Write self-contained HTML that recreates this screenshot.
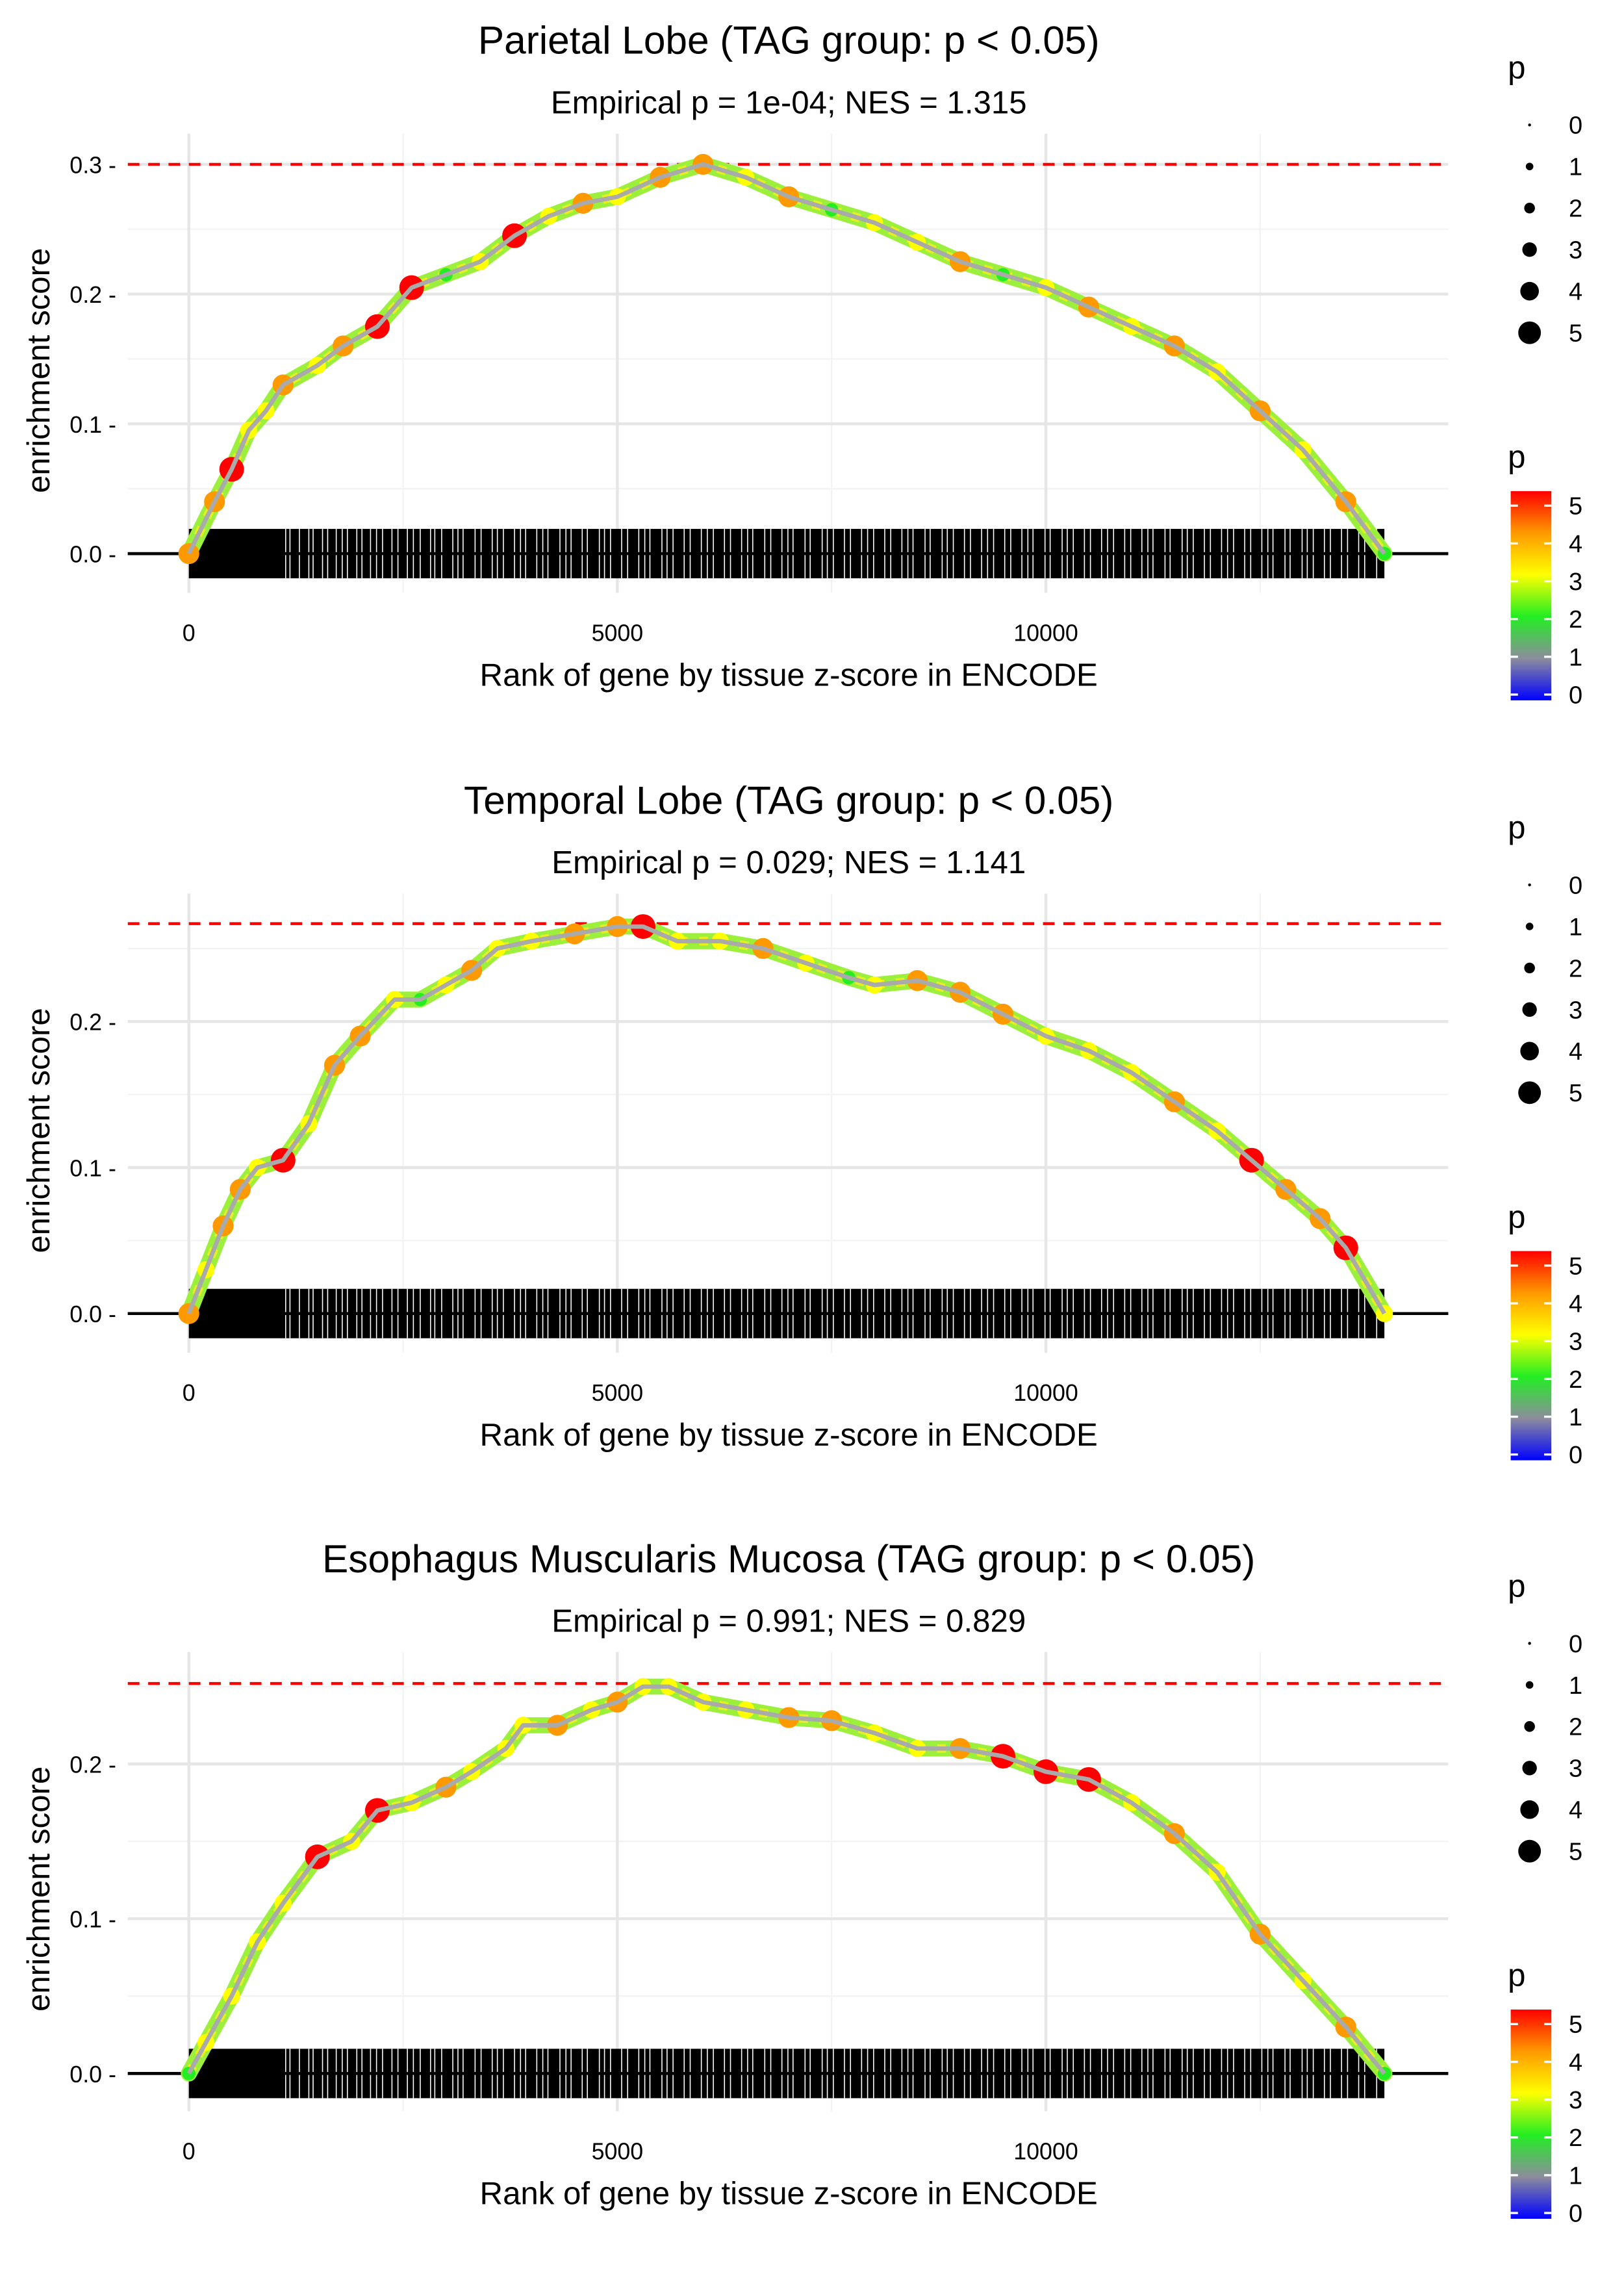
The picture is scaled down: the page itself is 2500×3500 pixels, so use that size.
<!DOCTYPE html>
<html><head><meta charset="utf-8"><style>
html,body{margin:0;padding:0;background:#fff}
svg{display:block}
text{font-family:"Liberation Sans",sans-serif;fill:#000}
</style></head><body>
<svg id="chart" width="2500" height="3500" viewBox="0 0 1118 1565" preserveAspectRatio="none" xmlns="http://www.w3.org/2000/svg">
<defs>
<linearGradient id="pgrad" x1="0" y1="1" x2="0" y2="0">
<stop offset="0" stop-color="#0000ff"/><stop offset="0.2" stop-color="#8c8c9c"/><stop offset="0.4" stop-color="#22ee22"/><stop offset="0.6" stop-color="#ffff00"/><stop offset="0.8" stop-color="#ff9900"/><stop offset="1" stop-color="#ff0000"/>
</linearGradient>
</defs>
</svg>
<script>
const titles = ["Parietal Lobe (TAG group: p < 0.05)","Temporal Lobe (TAG group: p < 0.05)","Esophagus Muscularis Mucosa (TAG group: p < 0.05)"];
const subtitles = ["Empirical p = 1e-04; NES = 1.315","Empirical p = 0.029; NES = 1.141","Empirical p = 0.991; NES = 0.829"];
const maxES = [0.3,0.267,0.252];
const yTicks = [[0,0.1,0.2,0.3],[0,0.1,0.2],[0,0.1,0.2]];
const xTicks = [0,5000,10000];
const ranks1 = [0,300,500,700,900,1100,1500,1800,2200,2600,3000,3400,3800,4200,4600,5000,5500,6000,6500,7000,7500,8000,8500,9000,9500,10000,10500,11000,11500,12000,12500,13000,13500,13950];
const es1 = [0,0.04,0.065,0.095,0.11,0.13,0.145,0.16,0.175,0.205,0.215,0.225,0.245,0.26,0.27,0.275,0.29,0.3,0.29,0.275,0.265,0.255,0.24,0.225,0.215,0.205,0.19,0.175,0.16,0.14,0.11,0.08,0.04,0];
const p1 = [4,4,5,3,3,4,3,4,5,5,2,3,5,3,4,3,4,4,3,4,2,3,3,4,2,3,4,3,4,3,4,3,4,2];
const ranks2 = [0,200,400,600,800,1100,1400,1700,2000,2400,2700,3000,3300,3600,4000,4500,5000,5300,5700,6200,6700,7200,7700,8000,8500,9000,9500,10000,10500,11000,11500,12000,12400,12800,13200,13500,13950];
const es2 = [0,0.03,0.06,0.085,0.1,0.105,0.13,0.17,0.19,0.215,0.215,0.225,0.235,0.25,0.255,0.26,0.265,0.265,0.255,0.255,0.25,0.24,0.23,0.225,0.228,0.22,0.205,0.19,0.18,0.165,0.145,0.125,0.105,0.085,0.065,0.045,0];
const p2 = [4,3,4,4,3,5,3,4,4,3,2,3,4,3,3,4,4,5,3,3,4,3,2,3,4,4,4,3,3,3,4,3,5,4,4,5,3];
const ranks3 = [0,200,500,800,1100,1500,1900,2200,2600,3000,3300,3700,3900,4300,4700,5000,5300,5600,6000,6500,7000,7500,8000,8500,9000,9500,10000,10500,11000,11500,12000,12500,13000,13500,13950];
const es3 = [0,0.02,0.05,0.085,0.11,0.14,0.15,0.17,0.175,0.185,0.195,0.21,0.225,0.225,0.235,0.24,0.25,0.25,0.24,0.235,0.23,0.228,0.22,0.21,0.21,0.205,0.195,0.19,0.175,0.155,0.13,0.09,0.06,0.03,0];
const p3 = [2,3,3,3,3,5,3,5,3,4,3,3,3,4,3,4,3,3,3,3,4,4,3,3,4,5,5,5,3,4,3,4,3,4,2];
const rugStart = 0;
const rugEnd = 13950;
const rugGaps = [1130,1180,1290,1400,1450,1560,1620,1720,1790,1850,1960,2020,2120,2190,2260,2370,2440,2550,2620,2700,2820,2870,2950,3080,3140,3200,3340,3410,3540,3600,3670,3800,3870,3930,4060,4130,4190,4330,4400,4460,4590,4650,4790,4850,4920,5050,5120,5250,5320,5380,5520,5580,5650,5780,5850,5980,6050,6120,6250,6320,6450,6520,6580,6720,6790,6920,6990,7050,7190,7250,7390,7450,7520,7650,7720,7850,7920,7990,8120,8190,8320,8390,8450,8590,8650,8790,8850,8920,9050,9120,9250,9320,9390,9520,9590,9720,9790,9850,9990,10050,10190,10250,10320,10450,10520,10650,10720,10790,10920,10990,11120,11190,11250,11390,11450,11590,11650,11720,11850,11920,12050,12120,12190,12320,12390,12520,12590,12650,12790,12850,12990,13050,13120,13250,13320,13450,13520,13650,13720,13860];
const legendSizes = [0,1,2,3,4,5];
const colorLabels = [5,4,3,2,1,0];

const NS="http://www.w3.org/2000/svg";
const svg=document.getElementById('chart');
function mk(tag,attrs,parent,txt){const e=document.createElementNS(NS,tag);for(const k in attrs)e.setAttribute(k,attrs[k]);if(txt!==undefined)e.textContent=txt;(parent||svg).appendChild(e);return e;}
function pcol(p){const stops=[[0,[0,0,255]],[1,[140,140,156]],[2,[34,238,34]],[3,[255,255,0]],[4,[255,153,0]],[5,[255,0,0]]];
 for(let i=0;i<5;i++){if(p<=stops[i+1][0]){const t=(p-stops[i][0]);const a=stops[i][1],b=stops[i+1][1];return `rgb(${Math.round(a[0]+(b[0]-a[0])*t)},${Math.round(a[1]+(b[1]-a[1])*t)},${Math.round(a[2]+(b[2]-a[2])*t)})`;}}return 'red';}
const panels=[{off:0,y0:381,k:893,r:ranks1,e:es1,p:p1},{off:523,y0:904,k:1005,r:ranks2,e:es2,p:p2},{off:1045,y0:1427,k:1065,r:ranks3,e:es3,p:p3}];
const X=r=>130+r*0.059;
panels.forEach((P,i)=>{
 const g=mk('g',{});
 
 
 const Y=v=>P.y0-v*P.k;
 const top=P.off+92, bot=P.off+408;
 const t=mk('text',{x:543,y:P.off+37,'font-size':27,'text-anchor':'middle'},g,titles[i]);
 
 
 const st=mk('text',{x:543,y:P.off+78,'font-size':22,'text-anchor':'middle'},g,subtitles[i]);
 
 
 [2500,7500,12500].forEach(r=>mk('line',{x1:X(r),x2:X(r),y1:top,y2:bot,stroke:'#f3f3f3','stroke-width':1},g));
 yTicks[i].forEach(v=>{const y=Y(v+0.05);if(y>top)mk('line',{x1:88,x2:997,y1:y,y2:y,stroke:'#f3f3f3','stroke-width':1},g);});
 xTicks.forEach(r=>mk('line',{x1:X(r),x2:X(r),y1:top,y2:bot,stroke:'#e6e6e6','stroke-width':2},g));
 yTicks[i].forEach(v=>{mk('line',{x1:88,x2:997,y1:Y(v),y2:Y(v),stroke:'#e6e6e6','stroke-width':2},g);
  const tl=mk('text',{x:80,y:Y(v)+6,'font-size':16,'text-anchor':'end',fill:'#4d4d4d'},g,v.toFixed(1)+' -');
  
  });
 xTicks.forEach(r=>{const tl=mk('text',{x:X(r),y:P.off+441,'font-size':16,'text-anchor':'middle',fill:'#4d4d4d'},g,String(r));
  
  });
 const xt=mk('text',{x:543,y:P.off+472,'font-size':22,'text-anchor':'middle'},g,'Rank of gene by tissue z-score in ENCODE');
 
 
 const yc=P.off+255;
 const yt=mk('text',{x:34,y:yc,'font-size':22,'text-anchor':'middle',transform:`rotate(-90 34 ${yc})`},g,'enrichment score');
 
 
 const dl=mk('line',{x1:88,x2:997,y1:Y(maxES[i]),y2:Y(maxES[i]),stroke:'#ff0000','stroke-width':2,'stroke-dasharray':'8 6'},g);
 
 
 mk('line',{x1:88,x2:997,y1:P.y0,y2:P.y0,stroke:'#000','stroke-width':2},g);
 const rug=mk('rect',{x:X(rugStart),y:P.y0-17,width:X(rugEnd)-X(rugStart),height:34,fill:'#000'},g);
 
 
 rugGaps.forEach(r=>{const l=mk('line',{x1:X(r),x2:X(r),y1:P.y0-17,y2:P.y0+17,stroke:'#fff','stroke-width':0.7},g);
  
  });
 mk('line',{x1:88,x2:997,y1:P.y0,y2:P.y0,stroke:'#000','stroke-width':2},g);
 const pts=P.r.map((r,j)=>X(r)+','+Y(P.e[j])).join(' ');
 const band=mk('polyline',{points:pts,fill:'none',stroke:'#9cf03c','stroke-width':11,'stroke-linejoin':'round','stroke-linecap':'round'},g);
 
 
 const band2=mk('polyline',{points:pts,fill:'none',stroke:'#e6f020','stroke-width':6,'stroke-dasharray':'6 8','stroke-linejoin':'round'},g);
 
 
 P.r.forEach((r,j)=>{const c=mk('circle',{cx:X(r),cy:Y(P.e[j]),r:2+P.p[j]*1.3,fill:pcol(P.p[j])},g);
  
  });
 const ln=mk('polyline',{points:pts,fill:'none',stroke:'#aaa','stroke-width':3,'stroke-linejoin':'round'},g);
 
 
 const lg=mk('g',{},g);
 
 
 mk('text',{x:1038,y:P.off+54,'font-size':22},lg,'p');
 legendSizes.forEach((s,j)=>{const y=P.off+86+j*28.6;
  mk('circle',{cx:1053,cy:y,r:[1,2.6,3.7,5,6.4,7.8][j],fill:'#000'},lg);
  mk('text',{x:1080,y:y+6,'font-size':17},lg,String(s));});
 const cg=mk('g',{},g);
 
 
 mk('text',{x:1038,y:P.off+322,'font-size':22},cg,'p');
 mk('rect',{x:1040,y:P.off+338,width:28,height:144,fill:'url(#pgrad)'},cg);
 colorLabels.forEach(v=>{const y=P.off+478-v*26;
  mk('line',{x1:1040,x2:1045,y1:y,y2:y,stroke:'#fff','stroke-width':1.5},cg);
  mk('line',{x1:1063,x2:1068,y1:y,y2:y,stroke:'#fff','stroke-width':1.5},cg);
  mk('text',{x:1080,y:y+6,'font-size':17},cg,String(v));});
});
</script>
</body></html>
